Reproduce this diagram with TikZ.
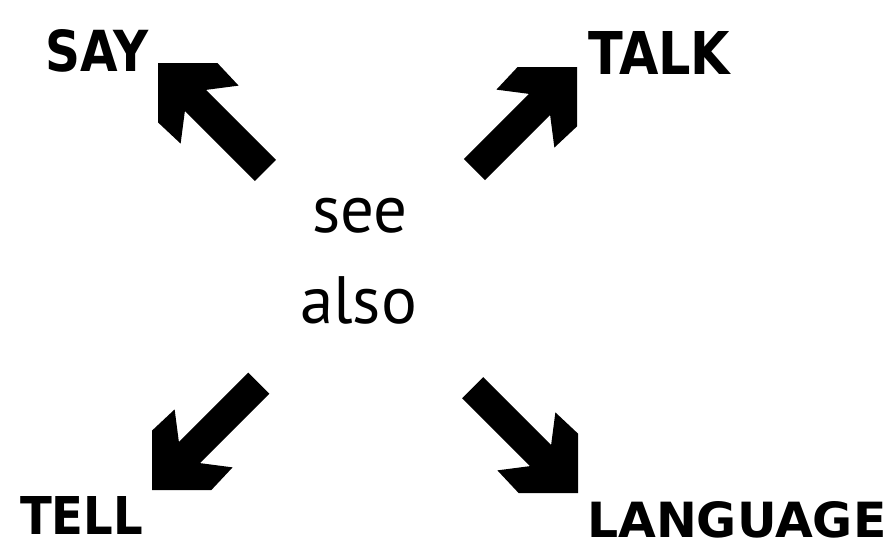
\documentclass[tikz,border=0pt]{standalone}
\usepackage{fontspec}
\setmainfont{PT Sans}
\newfontfamily\labelfont{DejaVu Sans}[BoldFont={DejaVu Sans Bold}]
\begin{document}
\begin{tikzpicture}[x=1pt,y=1pt,
  centretext/.style={inner sep=0pt, anchor=base, font=\fontsize{67}{67}\selectfont},
  labeltext/.style={inner sep=0pt, anchor=south west},
  blockarrow/.style={fill=black, draw=none}]
\useasboundingbox (0,0) rectangle (892,-541);
% centre text
\node[centretext] (see) at (360,-232) {see};
\node[centretext] (also) at (358.5,-323) {also};
% labels
\node[labeltext] (say) at (45,-72) {\resizebox{103pt}{42pt}{\labelfont\bfseries SAY}};
\node[labeltext] (talk) at (588,-75) {\resizebox{142pt}{43pt}{\labelfont\bfseries TALK}};
\node[labeltext] (tell) at (20,-535) {\resizebox{123pt}{38pt}{\labelfont\bfseries TELL}};
\node[labeltext] (language) at (587,-538) {\resizebox{299pt}{36pt}{\labelfont\bfseries LANGUAGE}};
% arrow tips
\coordinate (tipSay) at (158,-63);
\coordinate (tipTalk) at (577,-67);
\coordinate (tipTell) at (152,-490);
\coordinate (tipLanguage) at (578,-493);
\def\arrowshape#1{(0,0) -- (42,42) -- (73,41) -- (53,15) -- (#1,15) -- (#1,-15) -- (53,-15) -- (73,-41) -- (42,-42) -- cycle}
\fill[blockarrow, shift={(tipSay)}, rotate=-45] \arrowshape{152};
\fill[blockarrow, shift={(tipTalk)}, rotate=-135] \arrowshape{145};
\fill[blockarrow, shift={(tipTell)}, rotate=45] \arrowshape{151};
\fill[blockarrow, shift={(tipLanguage)}, rotate=135] \arrowshape{149};
\end{tikzpicture}
\end{document}
